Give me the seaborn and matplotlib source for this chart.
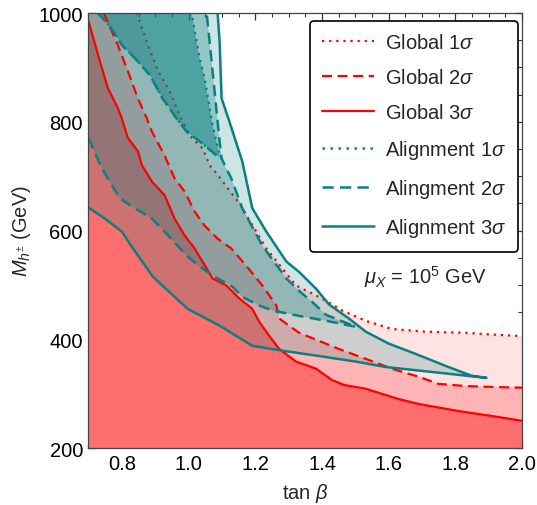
import numpy as np
import pandas as pd
import matplotlib
matplotlib.use("Agg")
import matplotlib.pyplot as plt
from matplotlib.lines import Line2D
from matplotlib.ticker import MultipleLocator, FormatStrFormatter
import seaborn as sns

sns.set_theme(style="ticks")
plt.rcParams["font.family"] = ["Liberation Sans", "DejaVu Sans"]
plt.rcParams["mathtext.fontset"] = "custom"
plt.rcParams["mathtext.rm"] = "Liberation Sans"
plt.rcParams["mathtext.it"] = "Liberation Sans:italic"
plt.rcParams["mathtext.bf"] = "Liberation Sans:bold"

# ---------------- data (tan beta, M_h+- in GeV) ----------------
# Global fit contours
g1_x = [0.845, 0.860, 0.884, 0.907, 0.943, 0.973, 1.003, 1.042, 1.063, 1.084, 1.152, 1.233, 1.322,
        1.400, 1.460, 1.531, 1.609, 1.710, 1.830, 1.928, 2.0]
g1_y = [1000, 972, 932, 895, 856, 812, 775, 751, 720, 705, 650, 567, 499,
        475, 453, 434, 419, 414, 412, 408, 406]

g2_x = [0.746, 0.788, 0.818, 0.848, 0.875, 0.890, 0.928, 0.958, 0.988, 1.018, 1.048, 1.087, 1.128,
        1.173, 1.221, 1.263, 1.272, 1.331, 1.391, 1.451, 1.531, 1.609, 1.690, 1.749, 1.830, 1.928, 2.0]
g2_y = [1000, 941, 893, 843, 806, 782, 738, 696, 672, 635, 609, 585, 567,
        535, 499, 462, 438, 412, 397, 382, 364, 346, 331, 318, 314, 312, 311]

g3_x = [0.70, 0.710, 0.740, 0.758, 0.788, 0.800, 0.818, 0.848, 0.860, 0.890, 0.928, 0.958, 0.988,
        1.018, 1.072, 1.113, 1.152, 1.191, 1.212, 1.242, 1.272, 1.322, 1.382, 1.430, 1.466, 1.531,
        1.630, 1.690, 1.809, 1.908, 2.0]
g3_y = [985, 963, 899, 862, 825, 806, 770, 746, 720, 690, 665, 622, 591,
        567, 512, 499, 475, 456, 432, 406, 382, 359, 346, 325, 316, 309,
        290, 281, 268, 259, 250]

# Alignment contours
a3_low_x = [0.70, 0.749, 0.800, 0.830, 0.893, 0.997, 1.093, 1.191, 1.281, 1.382, 1.501, 1.591, 1.728, 1.893]
a3_low_y = [642, 622, 598, 570, 515, 456, 425, 388, 379, 370, 359, 349, 340, 329]
a3_up_x = [1.893, 1.848, 1.779, 1.681, 1.600, 1.531, 1.481, 1.421, 1.382, 1.331, 1.293, 1.233,
           1.191, 1.161, 1.122, 1.099, 1.093, 1.087]
a3_up_y = [329, 333, 349, 373, 392, 414, 438, 464, 493, 524, 543, 598,
           641, 727, 801, 843, 948, 1000]

a2_low_x = [0.70, 0.740, 0.794, 0.839, 0.890, 0.928, 0.967, 0.994, 1.033, 1.072, 1.131, 1.161,
            1.212, 1.251, 1.331, 1.412, 1.501]
a2_low_y = [770, 714, 659, 641, 622, 598, 572, 554, 534, 517, 497, 478,
            462, 453, 443, 434, 423]
a2_up_x = [1.501, 1.412, 1.370, 1.331, 1.293, 1.221, 1.161, 1.128, 1.113, 1.099, 1.093, 1.078, 1.063, 1.054]
a2_up_y = [423, 445, 469, 489, 512, 572, 641, 696, 714, 733, 764, 856, 948, 1000]

a_inner_x = [0.728, 0.764, 0.800, 0.839, 0.884, 0.922, 0.964, 0.994, 1.033, 1.084, 1.099]
a_inner_y = [1000, 976, 941, 917, 886, 843, 806, 782, 764, 738, 733]

a1_right_x = [1.099, 1.093, 1.072, 1.048, 1.033, 1.009]
a1_right_y = [733, 738, 794, 880, 917, 1000]

xticks = [0.8, 1.0, 1.2, 1.4, 1.6, 1.8, 2.0]
yticks = [200, 400, 600, 800, 1000]
legend_labels = [r"Global 1$\sigma$", r"Global 2$\sigma$", r"Global 3$\sigma$",
                 r"Alignment 1$\sigma$", r"Alingment 2$\sigma$", r"Alignment 3$\sigma$"]
annot = r"$\mu_X$ = 10$^5$ GeV"

# ---------------- styling ----------------
RED = "#FF0000"
TEAL = "#0B8080"
PINK1 = "#FFE2E2"
PINK2 = "#FFB5B5"
PINK3 = "#FF6E6E"
XMIN, XMAX, YMIN, YMAX = 0.7, 2.0, 200, 1000
FS = 14.5

DOT = (0, (1, 2.2))
DASH = (0, (4.5, 2.5))

fig = plt.figure(figsize=(5.37, 5.06), dpi=100)
ax = fig.add_axes([0.1648, 0.1126, 0.8076, 0.8597])


def below(xs, ys):
    px = list(xs) + [XMAX, XMIN, XMIN]
    py = list(ys) + [YMIN, YMIN, YMAX]
    return px, py


# global filled regions
for xs, ys, c in [(g1_x, g1_y, PINK1), (g2_x, g2_y, PINK2), (g3_x, g3_y, PINK3)]:
    px, py = below(xs, ys)
    ax.fill(px, py, color=c, lw=0, zorder=1)

# alignment 3 sigma fill
ax.fill(a3_low_x + a3_up_x + [XMIN], a3_low_y + a3_up_y + [YMAX],
        color=TEAL, alpha=0.2, lw=0, zorder=2)

# Global 1 sigma line (below the darker alignment fills)
sns.lineplot(x=g1_x, y=g1_y, sort=False, estimator=None, color=RED, lw=1.6,
             linestyle=DOT, ax=ax, zorder=3)

# alignment 2 sigma fill
ax.fill(a2_low_x + a2_up_x + [XMIN], a2_low_y + a2_up_y + [YMAX],
        color=TEAL, alpha=0.3, lw=0, zorder=4)
# alignment 1 sigma fill
ax.fill(a_inner_x + a1_right_x, a_inner_y + a1_right_y,
        color=TEAL, alpha=0.5, lw=0, zorder=5)

# global lines
sns.lineplot(x=g2_x, y=g2_y, sort=False, estimator=None, color=RED, lw=1.6,
             linestyle=DASH, ax=ax, zorder=6)
sns.lineplot(x=g3_x, y=g3_y, sort=False, estimator=None, color=RED, lw=1.6,
             linestyle="-", ax=ax, zorder=6)

# alignment lines
sns.lineplot(x=a3_low_x + a3_up_x, y=a3_low_y + a3_up_y, sort=False, estimator=None,
             color=TEAL, lw=1.8, linestyle="-", ax=ax, zorder=7)
sns.lineplot(x=a2_low_x + a2_up_x, y=a2_low_y + a2_up_y, sort=False, estimator=None,
             color=TEAL, lw=1.8, linestyle=DASH, ax=ax, zorder=7)
sns.lineplot(x=a_inner_x, y=a_inner_y, sort=False, estimator=None,
             color=TEAL, lw=1.8, linestyle=DASH, ax=ax, zorder=7)
sns.lineplot(x=a_inner_x + a1_right_x, y=a_inner_y + a1_right_y, sort=False, estimator=None,
             color=TEAL, lw=1.6, linestyle=DOT, ax=ax, zorder=7)

ax.set_xlim(XMIN, XMAX)
ax.set_ylim(YMIN, YMAX)
ax.set_xticks(xticks)
ax.set_yticks(yticks)
ax.xaxis.set_major_formatter(FormatStrFormatter("%.1f"))
ax.xaxis.set_minor_locator(MultipleLocator(0.05))
ax.yaxis.set_minor_locator(MultipleLocator(50))
ax.tick_params(which="both", direction="in", top=True, right=True, colors="#333333",
               labelcolor="black", labelsize=FS)
ax.tick_params(which="major", length=5, width=0.9, pad=4)
ax.tick_params(which="minor", length=3, width=0.8)
for s in ax.spines.values():
    s.set_color("#444444")
    s.set_linewidth(0.9)
    s.set_zorder(10)

ax.set_xlabel(r"tan $\beta$", fontsize=FS, labelpad=6)
ax.set_ylabel(r"$M_{h^{\pm}}$ (GeV)", fontsize=FS, labelpad=4)

ax.text(0.776, 0.395, annot, transform=ax.transAxes, fontsize=FS, ha="center", va="center")

handles = [
    Line2D([], [], color=RED, lw=1.6, linestyle=DOT),
    Line2D([], [], color=RED, lw=1.6, linestyle=DASH),
    Line2D([], [], color=RED, lw=1.6, linestyle="-"),
    Line2D([], [], color=TEAL, lw=1.8, linestyle=DOT),
    Line2D([], [], color=TEAL, lw=1.8, linestyle=DASH),
    Line2D([], [], color=TEAL, lw=1.8, linestyle="-"),
]
leg = ax.legend(handles, legend_labels, loc="upper right", bbox_to_anchor=(0.991, 0.982),
                fontsize=FS, frameon=True, fancybox=True, framealpha=1,
                handlelength=2.6, handletextpad=0.55, labelspacing=0.8, borderpad=0.6,
                borderaxespad=0)
leg.get_frame().set_edgecolor("black")
leg.get_frame().set_linewidth(1.2)
leg.set_zorder(20)

fig.savefig("out.png", dpi=100)
